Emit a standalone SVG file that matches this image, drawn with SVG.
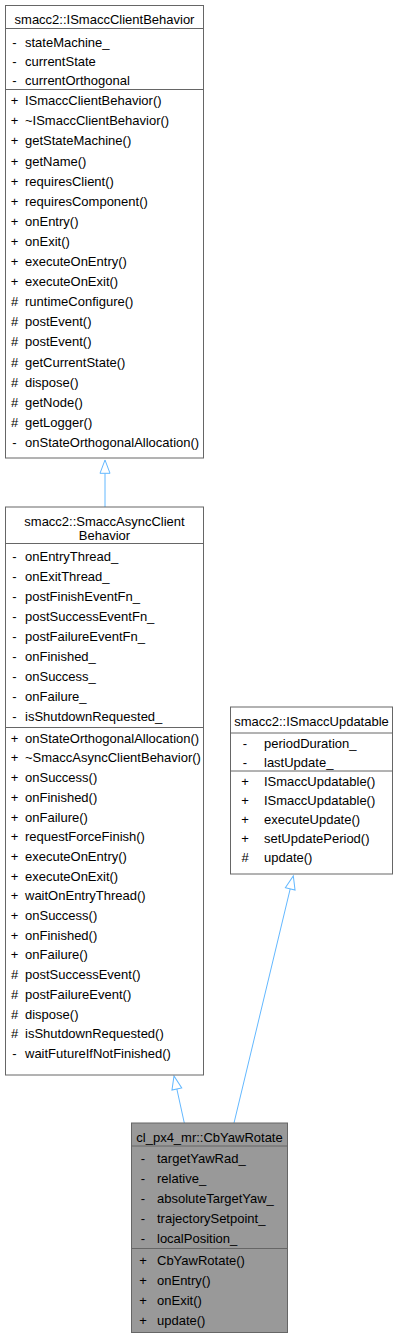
<svg xmlns="http://www.w3.org/2000/svg" width="402" height="1337" viewBox="0 0 402 1337">
<style>
text{font-family:"Liberation Sans",Arial,Helvetica,sans-serif;font-size:13px;fill:#000}
.t{text-anchor:middle}
.s{text-anchor:middle}
.box{fill:#fff;stroke:#666;stroke-width:1}
.hl{fill:#999;stroke:#666;stroke-width:1}
.sep{stroke:#666;stroke-width:1}
.edge{fill:none;stroke:#63b8ff;stroke-width:1;marker-start:url(#inh)}
</style>
<defs>
<marker id="inh" markerUnits="userSpaceOnUse" viewBox="-1 -7 16 14" refX="0" refY="0" markerWidth="16" markerHeight="14" orient="auto-start-reverse" overflow="visible">
<path d="M0,-5 L13.3,0 L0,5 Z" fill="#fff" stroke="#63b8ff" stroke-width="1"/>
</marker>
</defs>
<g id="connectors">
<path class="edge" d="M105,473.3 L105,507"/>
<path class="edge" d="M176.85,1089 L184.3,1123"/>
<path class="edge" d="M290.2,888.9 L234,1123"/>
</g>
<g id="ISmaccClientBehavior">
<rect class="box" x="5.5" y="5.5" width="198" height="452.5"/>
<text class="t" x="104.5" y="24">smacc2::ISmaccClientBehavior</text>
<line class="sep" x1="5.5" y1="28.5" x2="203.5" y2="28.5"/>
<g>
<text class="s" x="14.5" y="47">-</text><text x="25" y="47">stateMachine_</text>
<text class="s" x="14.5" y="66">-</text><text x="25" y="66">currentState</text>
<text class="s" x="14.5" y="85">-</text><text x="25" y="85">currentOrthogonal</text>
</g>
<line class="sep" x1="5.5" y1="89.5" x2="203.5" y2="89.5"/>
<g>
<text class="s" x="14.5" y="105.2">+</text><text x="25" y="105.2">ISmaccClientBehavior()</text>
<text class="s" x="14.5" y="125.3">+</text><text x="25" y="125.3">~ISmaccClientBehavior()</text>
<text class="s" x="14.5" y="145.4">+</text><text x="25" y="145.4">getStateMachine()</text>
<text class="s" x="14.5" y="165.5">+</text><text x="25" y="165.5">getName()</text>
<text class="s" x="14.5" y="185.6">+</text><text x="25" y="185.6">requiresClient()</text>
<text class="s" x="14.5" y="205.7">+</text><text x="25" y="205.7">requiresComponent()</text>
<text class="s" x="14.5" y="225.8">+</text><text x="25" y="225.8">onEntry()</text>
<text class="s" x="14.5" y="245.9">+</text><text x="25" y="245.9">onExit()</text>
<text class="s" x="14.5" y="266">+</text><text x="25" y="266">executeOnEntry()</text>
<text class="s" x="14.5" y="286.1">+</text><text x="25" y="286.1">executeOnExit()</text>
<text class="s" x="14.5" y="306.2">#</text><text x="25" y="306.2">runtimeConfigure()</text>
<text class="s" x="14.5" y="326.3">#</text><text x="25" y="326.3">postEvent()</text>
<text class="s" x="14.5" y="346.4">#</text><text x="25" y="346.4">postEvent()</text>
<text class="s" x="14.5" y="366.5">#</text><text x="25" y="366.5">getCurrentState()</text>
<text class="s" x="14.5" y="386.6">#</text><text x="25" y="386.6">dispose()</text>
<text class="s" x="14.5" y="406.7">#</text><text x="25" y="406.7">getNode()</text>
<text class="s" x="14.5" y="426.8">#</text><text x="25" y="426.8">getLogger()</text>
<text class="s" x="14.5" y="446.9">-</text><text x="25" y="446.9">onStateOrthogonalAllocation()</text>
</g>
</g>
<g id="SmaccAsyncClientBehavior">
<rect class="box" x="5.5" y="507" width="198" height="568"/>
<text class="t" x="104.5" y="525.6">smacc2::SmaccAsyncClient</text>
<text class="t" x="104.5" y="539.6">Behavior</text>
<line class="sep" x1="5.5" y1="543.5" x2="203.5" y2="543.5"/>
<g>
<text class="s" x="14.5" y="560.7">-</text><text x="25" y="560.7">onEntryThread_</text>
<text class="s" x="14.5" y="580.7">-</text><text x="25" y="580.7">onExitThread_</text>
<text class="s" x="14.5" y="600.7">-</text><text x="25" y="600.7">postFinishEventFn_</text>
<text class="s" x="14.5" y="620.7">-</text><text x="25" y="620.7">postSuccessEventFn_</text>
<text class="s" x="14.5" y="640.7">-</text><text x="25" y="640.7">postFailureEventFn_</text>
<text class="s" x="14.5" y="660.7">-</text><text x="25" y="660.7">onFinished_</text>
<text class="s" x="14.5" y="680.7">-</text><text x="25" y="680.7">onSuccess_</text>
<text class="s" x="14.5" y="700.7">-</text><text x="25" y="700.7">onFailure_</text>
<text class="s" x="14.5" y="720.7">-</text><text x="25" y="720.7">isShutdownRequested_</text>
</g>
<line class="sep" x1="5.5" y1="727.5" x2="203.5" y2="727.5"/>
<g>
<text class="s" x="14.5" y="742.7">+</text><text x="25" y="742.7">onStateOrthogonalAllocation()</text>
<text class="s" x="14.5" y="762.4">+</text><text x="25" y="762.4">~SmaccAsyncClientBehavior()</text>
<text class="s" x="14.5" y="782.1">+</text><text x="25" y="782.1">onSuccess()</text>
<text class="s" x="14.5" y="801.8">+</text><text x="25" y="801.8">onFinished()</text>
<text class="s" x="14.5" y="821.5">+</text><text x="25" y="821.5">onFailure()</text>
<text class="s" x="14.5" y="841.2">+</text><text x="25" y="841.2">requestForceFinish()</text>
<text class="s" x="14.5" y="860.9">+</text><text x="25" y="860.9">executeOnEntry()</text>
<text class="s" x="14.5" y="880.6">+</text><text x="25" y="880.6">executeOnExit()</text>
<text class="s" x="14.5" y="900.3">+</text><text x="25" y="900.3">waitOnEntryThread()</text>
<text class="s" x="14.5" y="920">+</text><text x="25" y="920">onSuccess()</text>
<text class="s" x="14.5" y="939.7">+</text><text x="25" y="939.7">onFinished()</text>
<text class="s" x="14.5" y="959.4">+</text><text x="25" y="959.4">onFailure()</text>
<text class="s" x="14.5" y="979.1">#</text><text x="25" y="979.1">postSuccessEvent()</text>
<text class="s" x="14.5" y="998.8">#</text><text x="25" y="998.8">postFailureEvent()</text>
<text class="s" x="14.5" y="1018.5">#</text><text x="25" y="1018.5">dispose()</text>
<text class="s" x="14.5" y="1038.2">#</text><text x="25" y="1038.2">isShutdownRequested()</text>
<text class="s" x="14.5" y="1057.9">-</text><text x="25" y="1057.9">waitFutureIfNotFinished()</text>
</g>
</g>
<g id="ISmaccUpdatable">
<rect class="box" x="230.5" y="707" width="162" height="167"/>
<text class="t" x="311.5" y="725.6">smacc2::ISmaccUpdatable</text>
<line class="sep" x1="230.5" y1="733" x2="392.5" y2="733"/>
<g>
<text class="s" x="245" y="747.7">-</text><text x="264" y="747.7">periodDuration_</text>
<text class="s" x="245" y="766.7">-</text><text x="264" y="766.7">lastUpdate_</text>
</g>
<line class="sep" x1="230.5" y1="771" x2="392.5" y2="771"/>
<g>
<text class="s" x="245" y="785.7">+</text><text x="264" y="785.7">ISmaccUpdatable()</text>
<text class="s" x="245" y="804.7">+</text><text x="264" y="804.7">ISmaccUpdatable()</text>
<text class="s" x="245" y="823.7">+</text><text x="264" y="823.7">executeUpdate()</text>
<text class="s" x="245" y="842.7">+</text><text x="264" y="842.7">setUpdatePeriod()</text>
<text class="s" x="245" y="861.7">#</text><text x="264" y="861.7">update()</text>
</g>
</g>
<g id="CbYawRotate">
<rect class="hl" x="131.5" y="1123" width="156" height="209.5"/>
<text class="t" x="209.5" y="1141.6">cl_px4_mr::CbYawRotate</text>
<line class="sep" x1="131.5" y1="1146" x2="287.5" y2="1146"/>
<g>
<text class="s" x="143" y="1162.7">-</text><text x="157" y="1162.7">targetYawRad_</text>
<text class="s" x="143" y="1182.7">-</text><text x="157" y="1182.7">relative_</text>
<text class="s" x="143" y="1202.7">-</text><text x="157" y="1202.7">absoluteTargetYaw_</text>
<text class="s" x="143" y="1222.7">-</text><text x="157" y="1222.7">trajectorySetpoint_</text>
<text class="s" x="143" y="1242.7">-</text><text x="157" y="1242.7">localPosition_</text>
</g>
<line class="sep" x1="131.5" y1="1248.5" x2="287.5" y2="1248.5"/>
<g>
<text class="s" x="143" y="1264.7">+</text><text x="157" y="1264.7">CbYawRotate()</text>
<text class="s" x="143" y="1284.7">+</text><text x="157" y="1284.7">onEntry()</text>
<text class="s" x="143" y="1304.7">+</text><text x="157" y="1304.7">onExit()</text>
<text class="s" x="143" y="1324.7">+</text><text x="157" y="1324.7">update()</text>
</g>
</g>
</svg>
